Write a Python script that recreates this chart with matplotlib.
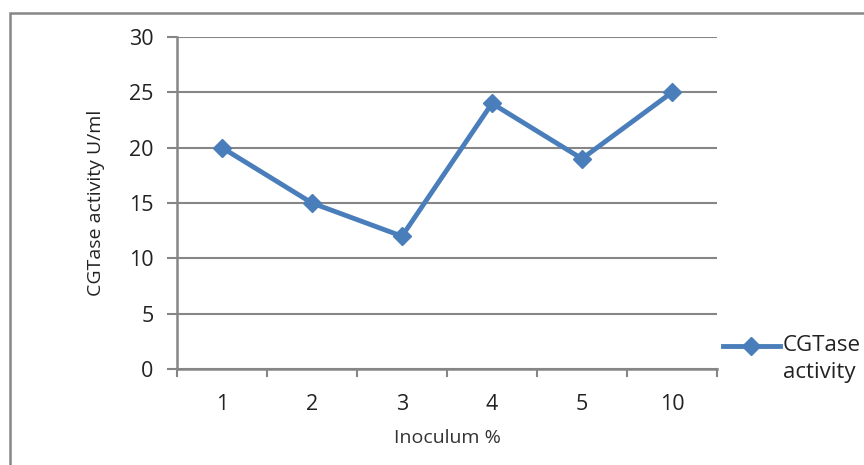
import matplotlib.pyplot as plt
from matplotlib.lines import Line2D
from matplotlib.patches import Rectangle

# inoculum levels and measured activity
inoculum = ['1', '2', '3', '4', '5', '10']
activity = [20, 15, 12, 24, 19, 25]
y_ticks = [0, 5, 10, 15, 20, 25, 30]
series_name = 'CGTase\nactivity'

plt.rcParams['font.family'] = ['Open Sans', 'DejaVu Sans']

W, H = 864, 465
fig = plt.figure(figsize=(W / 100, H / 100), dpi=100)

grey = '#868686'
blue = '#4A7EBB'
text_col = '#222222'

# chart frame (runs off the right and bottom edges)
fig.patches.append(Rectangle((10 / W, -0.05), 1.0, (H - 13) / H + 0.05,
                             transform=fig.transFigure, fill=False,
                             edgecolor=grey, linewidth=1.8, zorder=0))

ax = fig.add_axes([177 / W, (H - 369) / H, 540 / W, 332 / H])
x = list(range(len(inoculum)))
ax.plot(x, activity, color=blue, linewidth=3.5, marker='D', markersize=9.5,
        markeredgecolor=blue, zorder=3, clip_on=False)

ax.set_xlim(-0.5, len(inoculum) - 0.5)
ax.set_ylim(0, 30)
ax.set_yticks(y_ticks)
ax.set_yticklabels([str(v) for v in y_ticks], fontsize=15.5, color=text_col)
ax.set_xticks(x)
ax.set_xticklabels(inoculum, fontsize=15.5, color=text_col)
ax.tick_params(axis='x', length=0, pad=18)
ax.tick_params(axis='y', length=7, width=1.5, color=grey, pad=10)

# category boundary ticks below the x axis
for b in [i - 0.5 for i in range(len(inoculum) + 1)]:
    ax.plot([b, b], [0, -0.6], color=grey, linewidth=1.5, clip_on=False)

ax.yaxis.grid(True, color=grey, linewidth=1.5)
ax.set_axisbelow(True)
for s in ['top', 'right']:
    ax.spines[s].set_visible(False)
for s in ['left', 'bottom']:
    ax.spines[s].set_color(grey)
    ax.spines[s].set_linewidth(1.8)

ax.set_xlabel('Inoculum %', fontsize=14, color='#333333', labelpad=10)
ax.set_ylabel('CGTase activity U/ml', fontsize=14, color=text_col, labelpad=17)

# legend entry, handle level with the first text line
ly = (H - 346) / H
fig.add_artist(Line2D([723 / W, 780 / W], [ly, ly], color=blue, linewidth=3.5,
                      transform=fig.transFigure))
fig.add_artist(Line2D([751 / W], [ly], color=blue, marker='D', markersize=9.5,
                      transform=fig.transFigure))
fig.text(783 / W, (H - 335) / H, series_name, fontsize=16, color=text_col,
         va='top', ha='left', linespacing=1.4)

fig.savefig('out.png', dpi=100, facecolor='white')
